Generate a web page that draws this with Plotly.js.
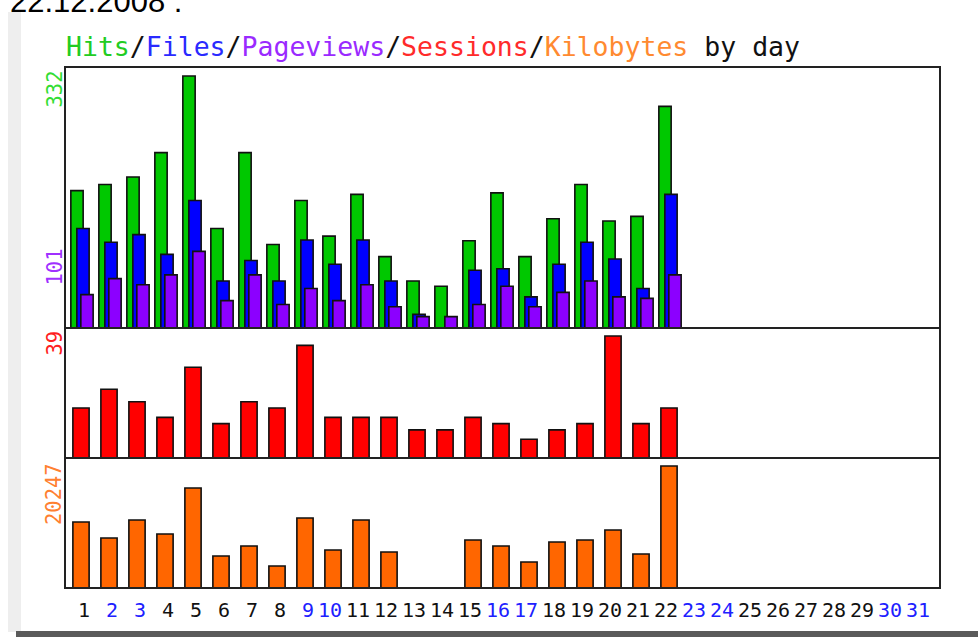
<!DOCTYPE html>
<html>
<head>
<meta charset="utf-8">
<script src="https://cdn.plot.ly/plotly-3.0.1.min.js"></script>
<style>
  html, body { margin: 0; padding: 0; background: #ffffff; }
  #chart { width: 978px; height: 637px; }
</style>
</head>
<body>
<div id="chart"></div>
<script>
// ---- data ----
const days = [1,2,3,4,5,6,7,8,9,10,11,12,13,14,15,16,17,18,19,20,21,22];
const hits      = [181,189,199,231,332,131,231,110,168,121,176,94,62,55,115,178,94,144,189,141,147,292];
const files     = [131,113,123,97,168,62,89,62,116,84,116,62,18,0,76,78,41,84,113,91,52,176];
const pageviews = [44,65,57,70,101,36,70,31,52,36,57,28,15,15,31,55,28,47,62,41,39,70];
const sessions  = [16,22,18,13,29,11,18,16,36,13,13,13,9,9,13,11,6,9,11,39,11,16];
const kilobytes = [10955,8300,11285,8962,16596,5311,6970,3651,11617,6306,11285,5975,0,0,7966,6970,4315,7634,7966,9626,5643,20247];
const dayLabels = ['1','2','3','4','5','6','7','8','9','10','11','12','13','14','15','16','17','18','19','20','21','22','23','24','25','26','27','28','29','30','31'];
const weekendDays = [2,3,9,10,16,17,23,24,30,31];
const maxLabels = {hits:'332', pageviews:'101', sessions:'39', kilobytes:'20247'};
const dateText = '22.12.2008 :';

// ---- geometry helpers (pixel -> paper) ----
const L = 65, R = 940, T = 67, B = 588;
const W = R - L, H = B - T;
const pxX = x => (x - L) / W;
const pxY = y => (B - y) / H;

const lineSty = {color: '#111', width: 1.6};
const bw = 0.44, rw = 0.58;

function barTrace(y, color, yaxis, width, center) {
  return {
    type: 'bar', x: days, y: y, xaxis: 'x', yaxis: yaxis,
    width: width, offset: center - width / 2,
    marker: {color: color, line: lineSty},
    hoverinfo: 'skip'
  };
}

const traces = [
  barTrace(hits, '#00c800', 'y', bw, -0.143),
  barTrace(files, '#0000ff', 'y', bw, 0.071),
  barTrace(pageviews, '#8c00ff', 'y', bw, 0.214),
  barTrace(sessions, '#ff0000', 'y2', rw, 0),
  barTrace(kilobytes, '#ff6600', 'y3', rw, 0)
];

const mono = 'DejaVu Sans Mono, monospace';
const annotations = [];
dayLabels.forEach((t, i) => {
  const d = i + 1;
  annotations.push({
    text: t, xref: 'x', yref: 'paper', x: d + 0.40, y: pxY(610),
    xanchor: 'right', yanchor: 'middle', showarrow: false,
    font: {family: mono, size: 20, color: weekendDays.includes(d) ? '#2020ff' : '#111'}
  });
});
function sideLabel(text, topPx, color) {
  annotations.push({
    text: text, xref: 'paper', yref: 'paper', x: pxX(54), y: pxY(topPx),
    xanchor: 'center', yanchor: 'top', textangle: -90, showarrow: false,
    font: {family: mono, size: 20.5, color: color}
  });
}
sideLabel(maxLabels.hits, 69, '#33dd33');
sideLabel(maxLabels.pageviews, 247, '#a030ff');
sideLabel(maxLabels.sessions, 329, '#ff2020');
sideLabel(maxLabels.kilobytes, 461, '#ff8030');

annotations.push({
  text: dateText, xref: 'paper', yref: 'paper', x: pxX(8), y: pxY(1),
  xanchor: 'left', yanchor: 'middle', showarrow: false,
  font: {family: 'Liberation Sans, Arial, sans-serif', size: 31, color: '#000'}
});

const titleText =
  '<span style="color:#22cc22">Hits</span>/' +
  '<span style="color:#2a2aff">Files</span>/' +
  '<span style="color:#9a2aff">Pageviews</span>/' +
  '<span style="color:#ff2a2a">Sessions</span>/' +
  '<span style="color:#ff8a30">Kilobytes</span> by day';

const frame = {color: '#222', width: 2};
const shapes = [
  {type: 'rect', xref: 'paper', yref: 'paper', x0: pxX(8), x1: pxX(21), y0: pxY(632), y1: pxY(12),
   fillcolor: '#eeeeee', line: {width: 0}, layer: 'below'},
  {type: 'rect', xref: 'paper', yref: 'paper', x0: pxX(16), x1: pxX(980), y0: pxY(638), y1: pxY(631),
   fillcolor: '#5a5a5a', line: {width: 0}},
  {type: 'rect', xref: 'paper', yref: 'paper', x0: 0, x1: 1, y0: 0, y1: 1, line: frame},
  {type: 'line', xref: 'paper', yref: 'paper', x0: 0, x1: 1, y0: pxY(328), y1: pxY(328), line: frame},
  {type: 'line', xref: 'paper', yref: 'paper', x0: 0, x1: 1, y0: pxY(458), y1: pxY(458), line: frame}
];

const hidden = {showgrid: false, zeroline: false, showticklabels: false, ticks: '', showline: false, fixedrange: true};
const layout = {
  width: 978, height: 637,
  margin: {l: L, r: 978 - R, t: T, b: 637 - B, pad: 0},
  paper_bgcolor: '#ffffff', plot_bgcolor: '#ffffff',
  showlegend: false, barmode: 'overlay',
  title: {text: titleText, x: pxX(66), xref: 'paper', xanchor: 'left',
          y: 1 - 47 / 637, yref: 'container', yanchor: 'middle',
          font: {family: mono, size: 26.5, color: '#111'}},
  xaxis: Object.assign({range: [1 - 16 / 28, 1 + 859 / 28], anchor: 'y3'}, hidden),
  yaxis: Object.assign({domain: [pxY(328), 1], range: [0, 332 * 261 / 252], anchor: 'x'}, hidden),
  yaxis2: Object.assign({domain: [pxY(458), pxY(328)], range: [0, 39 * 130 / 122], anchor: 'x'}, hidden),
  yaxis3: Object.assign({domain: [0, pxY(458)], range: [0, 20247 * 130 / 122], anchor: 'x'}, hidden),
  annotations: annotations,
  shapes: shapes
};

Plotly.newPlot('chart', traces, layout, {displayModeBar: false, staticPlot: true});
</script>
</body>
</html>
